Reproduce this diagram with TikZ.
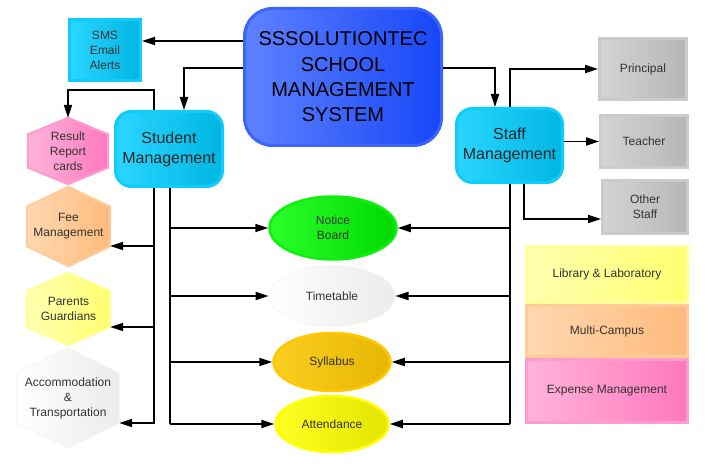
\documentclass[tikz,border=0pt]{standalone}
\usepackage{fontspec}
\setmainfont{Liberation Sans}
\usetikzlibrary{shapes.geometric,arrows.meta,calc}
\pgfdeclarelayer{bg}
\pgfsetlayers{bg,main}
\definecolor{cyanA}{HTML}{2AD6FF}
\definecolor{cyanB}{HTML}{00B6E2}
\definecolor{cyanE}{HTML}{10CCFA}
\definecolor{blueA}{HTML}{5E82FF}
\definecolor{blueB}{HTML}{1846F6}
\definecolor{blueE}{HTML}{3A64FF}
\definecolor{pinkA}{HTML}{FFB4DA}
\definecolor{pinkB}{HTML}{FF78BC}
\definecolor{pinkE}{HTML}{FF9CCE}
\definecolor{orA}{HTML}{FFD8B0}
\definecolor{orB}{HTML}{FFBA7C}
\definecolor{orE}{HTML}{FFCC99}
\definecolor{yeA}{HTML}{FFFFB0}
\definecolor{yeB}{HTML}{FFFF70}
\definecolor{yeE}{HTML}{FFFF99}
\definecolor{whA}{HTML}{FFFFFF}
\definecolor{whB}{HTML}{EBEBEB}
\definecolor{whE}{HTML}{F6F6EC}
\definecolor{grA}{HTML}{2AFF2A}
\definecolor{grB}{HTML}{00DA00}
\definecolor{grE}{HTML}{10EE10}
\definecolor{goA}{HTML}{FACE20}
\definecolor{goB}{HTML}{E6B600}
\definecolor{goE}{HTML}{FFC800}
\definecolor{ylA}{HTML}{FFFF22}
\definecolor{ylB}{HTML}{E4E400}
\definecolor{ylE}{HTML}{FFFF00}
\definecolor{gyA}{HTML}{D4D4D4}
\definecolor{gyB}{HTML}{B6B6B6}
\definecolor{gyE}{HTML}{CBCBCB}
\definecolor{txt}{HTML}{333333}
\newcommand\myhex[2]{%
  \begin{pgfonlayer}{bg}
  \path[#1] (#2.north) -- ($(#2.north east)!0.25!(#2.south east)$)
    -- ($(#2.north east)!0.75!(#2.south east)$) -- (#2.south)
    -- ($(#2.north west)!0.75!(#2.south west)$)
    -- ($(#2.north west)!0.25!(#2.south west)$) -- cycle;
  \end{pgfonlayer}}
\tikzset{
  conn/.style={line width=1.8pt, draw=black},
  arr/.style={conn, -{Triangle[length=13pt,width=8pt]}},
  lbl/.style={text=txt, font=\fontsize{12}{15}\selectfont, align=center, inner sep=0pt},
  cyanbox/.style={rectangle, draw=cyanE, line width=3pt, left color=cyanA, right color=cyanB},
  graybox/.style={rectangle, draw=gyE, line width=3pt, left color=gyA, right color=gyB, lbl},
  hexnode/.style={rectangle, draw=none, lbl},
  ell/.style={ellipse, line width=2.5pt, inner sep=0pt, lbl},
}
\begin{document}
\begin{tikzpicture}[x=1pt,y=-1pt]
\useasboundingbox (0,0) rectangle (710,465);
% main
\node[rectangle, rounded corners=28pt, draw=blueE, line width=3pt, left color=blueA, right color=blueB,
  minimum width=197pt, minimum height=137pt, align=center, inner sep=0pt,
  font=\fontsize{20}{25.3}\selectfont, text=black] (main) at (343,77)
  {SSSOLUTIONTEC\\SCHOOL\\MANAGEMENT\\SYSTEM};
% SMS
\node[cyanbox, lbl, minimum width=71pt, minimum height=61pt] (sms) at (105,50) {SMS\\Email\\Alerts};
% student & staff
\node[cyanbox, rounded corners=16pt, minimum width=107pt, minimum height=75pt, align=center, inner sep=0pt,
  font=\fontsize{16}{20}\selectfont, text=black!85] (student) at (169,149) {Student\\Management};
\node[cyanbox, rounded corners=16pt, minimum width=106pt, minimum height=74pt, align=center, inner sep=0pt,
  font=\fontsize{16}{20}\selectfont, text=black!85] (staff) at (509.5,145.5) {Staff\\Management};
% gray boxes
\node[graybox, minimum width=87pt, minimum height=61pt] (principal) at (643,69) {Principal};
\node[graybox, minimum width=87pt, minimum height=52pt] (teacher) at (644,141.5) {Teacher};
\node[graybox, minimum width=85pt, minimum height=53pt] (other) at (645,207) {Other\\Staff};
% right stacked boxes
\node[rectangle, draw=yeE, line width=3pt, left color=yeA, right color=yeB, lbl,
  minimum width=161pt, minimum height=56pt] (library) at (607,274.5) {Library \& Laboratory};
\node[rectangle, draw=orE, line width=3pt, left color=orA, right color=orB, lbl,
  minimum width=161pt, minimum height=51pt] (multi) at (607,331) {Multi-Campus};
\node[rectangle, draw=pinkE, line width=3pt, left color=pinkA, right color=pinkB, lbl,
  minimum width=161pt, minimum height=63pt] (expense) at (607,391) {Expense Management};
% ellipses
\node[ell, draw=grE, left color=grA, right color=grB, minimum width=127pt, minimum height=63pt] (notice) at (333,228) {Notice\\Board};
\node[ell, draw=whE, line width=1pt, left color=whA, right color=whB, minimum width=126pt, minimum height=61pt] (timetable) at (332,296) {Timetable};
\node[ell, draw=goE, left color=goA, right color=goB, minimum width=117pt, minimum height=58pt] (syllabus) at (332,362) {Syllabus};
\node[ell, draw=ylE, left color=ylA, right color=ylB, minimum width=113pt, minimum height=56pt] (attendance) at (332,424) {Attendance};
% hexagons
\node[hexnode, minimum width=80pt, minimum height=66pt] (result) at (68,151) {Result\\Report\\cards};
\node[hexnode, minimum width=83pt, minimum height=79pt] (fee) at (68.5,226.5) {Fee\\Management};
\node[hexnode, minimum width=83pt, minimum height=72pt] (parents) at (68.5,309) {Parents\\Guardians};
\node[hexnode, minimum width=102pt, minimum height=100pt] (accom) at (68,398) {Accommodation\\\&\\Transportation};
\myhex{draw=pinkE, line width=2pt, left color=pinkA, right color=pinkB}{result}
\myhex{draw=orE, line width=2pt, left color=orA, right color=orB}{fee}
\myhex{draw=yeE, line width=2pt, left color=yeA, right color=yeB}{parents}
\myhex{draw=whE, line width=1pt, left color=whA, right color=whB}{accom}
% connectors from main
\draw[arr] (main.west |- 0,41) -- (sms.east |- 0,41);
\draw[arr] (main.west |- 0,68) -| (student.north -| 184,0);
\draw[arr] (main.east |- 0,68) -| (staff.north -| 495,0);
% student to result
\draw[arr] (student.north -| 154,0) -- (154,90) -| (result.north);
% student left bus
\draw[conn] (student.south -| 154,0) -- (154,424);
\draw[arr] (154,246) -- (fee.east |- 0,246);
\draw[arr] (154,327) -- (parents.east |- 0,327);
\draw[arr] (154,423) -- (accom.east |- 0,423);
% student right bus
\draw[conn] (student.south -| 170,0) -- (170,424);
\draw[arr] (notice.west -| 170,0) -- (notice.west);
\draw[arr] (timetable.west -| 170,0) -- (timetable.west);
\draw[arr] (syllabus.west -| 170,0) -- (syllabus.west);
\draw[arr] (attendance.west -| 170,0) -- (attendance.west);
% staff bus
\draw[conn] (staff.south -| 510,0) -- (510,424);
\draw[arr] (notice.east -| 510,0) -- (notice.east);
\draw[arr] (timetable.east -| 510,0) -- (timetable.east);
\draw[arr] (syllabus.east -| 510,0) -- (syllabus.east);
\draw[arr] (attendance.east -| 510,0) -- (attendance.east);
% staff to roles
\draw[arr] (staff.north -| 510,0) |- (principal.west);
\draw[arr] (staff.east |- teacher.west) -- (teacher.west);
\draw[arr] (staff.south -| 524,0) |- (other.west |- 0,219);
\end{tikzpicture}
\end{document}
